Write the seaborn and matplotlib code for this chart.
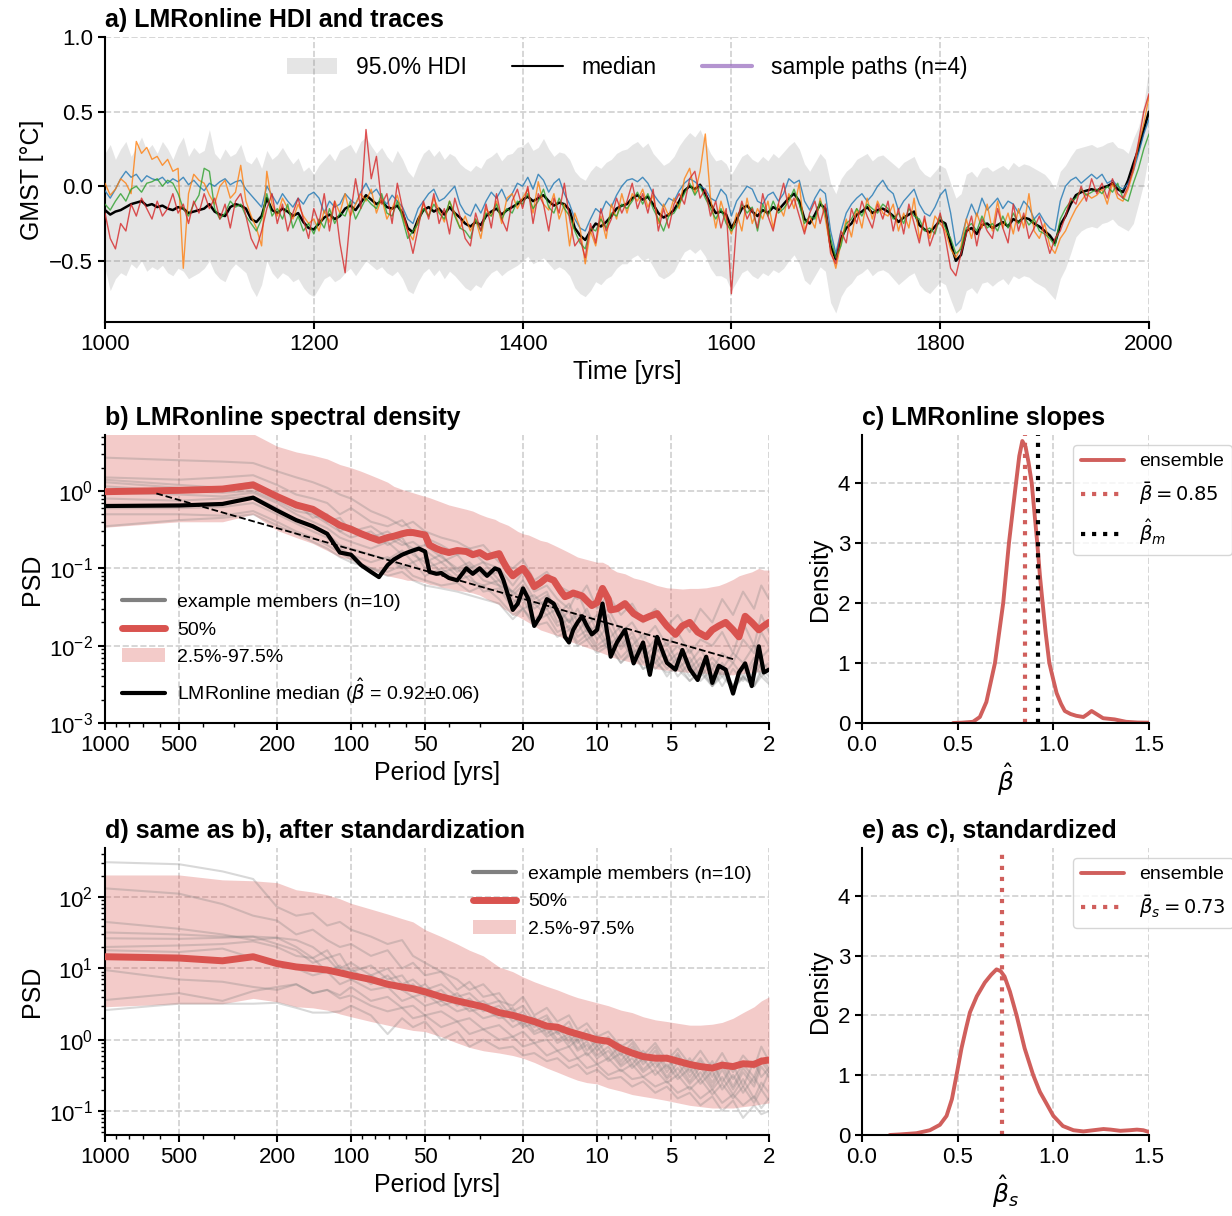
import numpy as np
import matplotlib
matplotlib.use("Agg")
import matplotlib.pyplot as plt
from matplotlib.lines import Line2D
from matplotlib.patches import Patch
from matplotlib.ticker import NullFormatter
import seaborn as sns

# ---------------- panel a data (5-year sampling) ----------------
years = np.arange(1000, 2001, 5)

median_gmst = [
    -0.16, -0.19, -0.17, -0.16, -0.14, -0.12, -0.11, -0.10, -0.13, -0.12,
    -0.14, -0.13, -0.15, -0.16, -0.14, -0.15, -0.18, -0.17, -0.16, -0.15,
    -0.12, -0.17, -0.19, -0.20, -0.14, -0.12, -0.13, -0.15, -0.22, -0.24,
    -0.20, -0.08, -0.16, -0.18, -0.15, -0.17, -0.20, -0.18, -0.24, -0.28,
    -0.29, -0.25, -0.21, -0.19, -0.22, -0.20, -0.15, -0.13, -0.16, -0.11,
    -0.06, -0.09, -0.12, -0.10, -0.14, -0.15, -0.13, -0.18, -0.28, -0.31,
    -0.22, -0.16, -0.14, -0.17, -0.15, -0.19, -0.14, -0.18, -0.21, -0.25,
    -0.27, -0.24, -0.26, -0.20, -0.17, -0.15, -0.19, -0.16, -0.14, -0.12,
    -0.09, -0.07, -0.10, -0.08, -0.06, -0.10, -0.13, -0.11, -0.12, -0.16,
    -0.28, -0.33, -0.36, -0.30, -0.25, -0.27, -0.24, -0.20, -0.15, -0.13,
    -0.12, -0.08, -0.06, -0.09, -0.07, -0.12, -0.18, -0.21, -0.19, -0.16,
    -0.10, -0.03, 0.00, -0.02, 0.01, -0.05, -0.12, -0.18, -0.17, -0.19,
    -0.28, -0.22, -0.15, -0.13, -0.17, -0.20, -0.16, -0.18, -0.14, -0.16,
    -0.12, -0.08, -0.05, -0.10, -0.22, -0.25, -0.19, -0.12, -0.15, -0.40,
    -0.49, -0.35, -0.28, -0.25, -0.19, -0.17, -0.14, -0.18, -0.16, -0.15,
    -0.17, -0.20, -0.24, -0.21, -0.19, -0.17, -0.26, -0.29, -0.31, -0.27,
    -0.23, -0.25, -0.38, -0.50, -0.46, -0.30, -0.28, -0.32, -0.26, -0.25,
    -0.28, -0.26, -0.24, -0.27, -0.22, -0.24, -0.21, -0.22, -0.25, -0.27,
    -0.30, -0.33, -0.38, -0.26, -0.20, -0.12, -0.06, -0.04, -0.03, -0.02,
    -0.03, -0.01, 0.00, 0.02, -0.02, -0.04, 0.04, 0.15, 0.25, 0.38, 0.50,
]

hdi_upper = [
    0.22, 0.28, 0.18, 0.25, 0.30, 0.20, 0.26, 0.33, 0.24, 0.28,
    0.22, 0.30, 0.25, 0.18, 0.27, 0.33, 0.20, 0.26, 0.22, 0.24,
    0.38, 0.22, 0.18, 0.25, 0.20, 0.22, 0.28, 0.17, 0.15, 0.20,
    0.12, 0.24, 0.18, 0.21, 0.26, 0.20, 0.15, 0.19, 0.10, 0.13,
    0.08, 0.14, 0.18, 0.22, 0.17, 0.24, 0.26, 0.28, 0.22, 0.30,
    0.33, 0.27, 0.22, 0.26, 0.20, 0.16, 0.24, 0.18, 0.10, 0.06,
    0.15, 0.22, 0.25, 0.20, 0.24, 0.18, 0.22, 0.20, 0.15, 0.12,
    0.10, 0.14, 0.12, 0.18, 0.20, 0.23, 0.17, 0.21, 0.22, 0.26,
    0.27, 0.30, 0.24, 0.26, 0.32, 0.25, 0.20, 0.23, 0.22, 0.18,
    0.10, 0.06, 0.04, 0.10, 0.14, 0.12, 0.16, 0.18, 0.22, 0.24,
    0.25, 0.28, 0.30, 0.26, 0.29, 0.22, 0.18, 0.14, 0.16, 0.20,
    0.27, 0.32, 0.36, 0.33, 0.38, 0.30, 0.22, 0.17, 0.18, 0.15,
    0.08, 0.14, 0.20, 0.22, 0.18, 0.16, 0.20, 0.17, 0.22, 0.19,
    0.23, 0.27, 0.30, 0.25, 0.15, 0.10, 0.16, 0.22, 0.18, 0.02,
    -0.05, 0.05, 0.10, 0.13, 0.18, 0.20, 0.22, 0.17, 0.20, 0.21,
    0.18, 0.15, 0.12, 0.16, 0.18, 0.20, 0.12, 0.08, 0.06, 0.10,
    0.14, 0.12, 0.02, -0.08, -0.05, 0.08, 0.10, 0.06, 0.12, 0.13,
    0.10, 0.12, 0.14, 0.11, 0.16, 0.13, 0.15, 0.14, 0.12, 0.10,
    0.08, 0.04, -0.02, 0.10, 0.14, 0.20, 0.25, 0.26, 0.27, 0.28,
    0.26, 0.27, 0.29, 0.30, 0.26, 0.25, 0.22, 0.32, 0.40, 0.55, 0.80,
]

hdi_lower = [
    -0.55, -0.70, -0.62, -0.58, -0.60, -0.52, -0.55, -0.50, -0.57, -0.54,
    -0.56, -0.53, -0.58, -0.60, -0.55, -0.57, -0.62, -0.60, -0.58, -0.55,
    -0.50, -0.58, -0.62, -0.64, -0.56, -0.52, -0.55, -0.58, -0.68, -0.74,
    -0.66, -0.50, -0.58, -0.62, -0.58, -0.60, -0.64, -0.62, -0.68, -0.72,
    -0.74, -0.68, -0.62, -0.60, -0.64, -0.62, -0.58, -0.55, -0.60, -0.55,
    -0.50, -0.53, -0.56, -0.54, -0.58, -0.60, -0.57, -0.62, -0.70, -0.72,
    -0.64, -0.58, -0.55, -0.60, -0.56, -0.62, -0.57, -0.60, -0.64, -0.68,
    -0.70, -0.66, -0.68, -0.62, -0.58, -0.56, -0.60, -0.57, -0.55, -0.53,
    -0.50, -0.47, -0.52, -0.50, -0.48, -0.52, -0.56, -0.54, -0.56, -0.60,
    -0.68, -0.72, -0.74, -0.70, -0.64, -0.66, -0.62, -0.60, -0.55, -0.52,
    -0.52, -0.48, -0.46, -0.50, -0.48, -0.54, -0.60, -0.62, -0.60, -0.57,
    -0.50, -0.44, -0.42, -0.45, -0.42, -0.47, -0.55, -0.60, -0.60, -0.62,
    -0.70, -0.64, -0.58, -0.56, -0.60, -0.62, -0.58, -0.60, -0.56, -0.58,
    -0.55, -0.50, -0.46, -0.52, -0.63, -0.66, -0.60, -0.54, -0.57, -0.78,
    -0.85, -0.74, -0.68, -0.65, -0.60, -0.58, -0.55, -0.60, -0.57, -0.56,
    -0.58, -0.62, -0.66, -0.63, -0.60, -0.58, -0.66, -0.70, -0.72, -0.68,
    -0.64, -0.66, -0.76, -0.85, -0.82, -0.70, -0.68, -0.72, -0.65, -0.64,
    -0.67, -0.64, -0.62, -0.66, -0.60, -0.62, -0.60, -0.61, -0.64, -0.66,
    -0.68, -0.72, -0.76, -0.62, -0.55, -0.45, -0.34, -0.30, -0.28, -0.27,
    -0.28, -0.25, -0.24, -0.22, -0.26, -0.28, -0.30, -0.25, -0.12, 0.02, 0.22,
]

path_blue = [
    -0.03, -0.08, -0.02, 0.05, 0.10, 0.06, 0.08, 0.03, 0.07, 0.05,
    0.04, 0.06, 0.02, 0.05, 0.03, 0.06, 0.01, 0.04, 0.00, -0.03,
    0.02, 0.00, 0.03, 0.05, 0.01, 0.03, 0.04, -0.02, -0.06, -0.10,
    -0.14, 0.00, -0.06, -0.12, -0.05, -0.10, -0.14, -0.08, -0.12, -0.06,
    -0.04, -0.08, -0.18, -0.10, -0.14, -0.12, -0.05, -0.09, -0.12, -0.04,
    0.02, -0.05, -0.02, -0.08, -0.12, -0.06, -0.10, -0.14, -0.22, -0.25,
    -0.15, -0.10, -0.05, -0.02, -0.10, -0.08, -0.04, 0.00, -0.12, -0.18,
    -0.20, -0.12, -0.18, -0.10, -0.04, -0.08, -0.02, -0.10, -0.05, 0.02,
    0.00, 0.06, -0.02, 0.08, 0.04, -0.04, 0.02, 0.05, -0.05, -0.12,
    -0.22, -0.28, -0.30, -0.22, -0.15, -0.18, -0.10, -0.14, -0.06, 0.00,
    0.04, 0.05, 0.03, 0.06, 0.02, -0.05, -0.10, -0.14, -0.08, -0.10,
    -0.03, 0.02, 0.05, 0.03, 0.00, -0.02, -0.08, -0.10, -0.02, -0.06,
    -0.20, -0.10, -0.05, 0.00, -0.02, -0.10, -0.12, -0.06, -0.04, -0.10,
    -0.05, 0.05, 0.02, 0.04, -0.10, -0.16, -0.08, -0.02, -0.05, -0.30,
    -0.45, -0.30, -0.18, -0.12, -0.08, -0.05, -0.10, -0.06, 0.00, 0.04,
    -0.02, -0.05, -0.16, -0.10, -0.06, -0.02, -0.12, -0.18, -0.20, -0.14,
    -0.06, -0.02, -0.18, -0.40, -0.36, -0.22, -0.12, -0.20, -0.08, -0.16,
    -0.12, -0.08, -0.15, -0.10, -0.12, -0.18, -0.10, -0.14, -0.22, -0.18,
    -0.24, -0.28, -0.30, -0.10, 0.00, 0.04, 0.06, 0.02, 0.05, 0.08,
    0.05, 0.08, 0.02, 0.04, 0.00, -0.02, 0.02, 0.10, 0.22, 0.35, 0.45,
]

path_orange = [
    0.02, -0.06, -0.02, 0.05, 0.02, -0.05, 0.30, 0.22, 0.26, 0.18,
    0.20, 0.14, 0.18, 0.10, 0.12, -0.55, -0.05, 0.08, 0.04, 0.02,
    -0.06, -0.12, 0.00, 0.04, -0.08, -0.04, 0.14, -0.10, -0.20, -0.28,
    -0.40, 0.10, -0.12, -0.20, -0.08, -0.15, -0.22, -0.12, -0.20, -0.25,
    -0.22, -0.30, -0.16, -0.24, -0.10, -0.18, -0.05, -0.20, -0.12, -0.05,
    -0.10, -0.02, -0.18, -0.08, -0.22, -0.15, -0.06, -0.20, -0.30, -0.36,
    -0.22, -0.12, -0.20, -0.08, -0.16, -0.24, -0.10, -0.18, -0.28, -0.20,
    -0.30, -0.22, -0.35, -0.15, -0.20, -0.10, -0.25, -0.08, -0.05, -0.15,
    -0.08, -0.02, -0.18, 0.03, -0.12, -0.16, -0.05, -0.22, -0.12, -0.40,
    -0.18, -0.28, -0.52, -0.30, -0.40, -0.20, -0.35, -0.12, -0.22, -0.05,
    -0.18, -0.05, -0.10, -0.02, -0.14, -0.06, -0.25, -0.12, -0.20, -0.08,
    -0.15, 0.05, 0.12, -0.05, 0.10, 0.35, -0.08, -0.28, -0.10, -0.22,
    -0.32, -0.18, -0.30, -0.08, -0.25, -0.15, -0.22, -0.10, -0.28, -0.12,
    -0.20, -0.05, -0.15, 0.02, -0.30, -0.20, -0.28, -0.08, -0.22, -0.42,
    -0.55, -0.38, -0.22, -0.34, -0.15, -0.28, -0.08, -0.22, -0.10, -0.18,
    -0.20, -0.12, -0.30, -0.18, -0.28, -0.08, -0.35, -0.22, -0.35, -0.20,
    -0.25, -0.30, -0.42, -0.48, -0.40, -0.22, -0.35, -0.18, -0.28, -0.12,
    -0.30, -0.10, -0.28, -0.18, -0.32, -0.15, -0.28, -0.05, -0.30, -0.35,
    -0.25, -0.40, -0.45, -0.35, -0.30, -0.22, -0.15, -0.10, -0.05, -0.08,
    -0.06, -0.02, -0.12, 0.02, -0.08, -0.10, -0.02, 0.10, 0.28, 0.42, 0.60,
]

path_green = [
    -0.12, -0.16, -0.10, -0.05, -0.10, -0.02, 0.00, -0.04, 0.02, 0.03,
    0.05, 0.00, 0.04, 0.02, -0.05, -0.15, -0.20, -0.12, -0.06, 0.12,
    0.10, -0.15, -0.22, -0.18, -0.10, -0.14, -0.12, -0.20, -0.25, -0.30,
    -0.22, -0.05, -0.20, -0.15, -0.22, -0.12, -0.28, -0.20, -0.30, -0.25,
    -0.32, -0.22, -0.28, -0.15, -0.25, -0.18, -0.20, -0.10, -0.22, -0.15,
    -0.08, -0.12, -0.15, -0.05, -0.18, -0.20, -0.10, -0.22, -0.35, -0.30,
    -0.25, -0.15, -0.20, -0.12, -0.18, -0.22, -0.10, -0.20, -0.28, -0.30,
    -0.35, -0.22, -0.30, -0.18, -0.20, -0.12, -0.22, -0.15, -0.18, -0.10,
    -0.12, -0.05, -0.15, -0.10, -0.02, -0.14, -0.18, -0.08, -0.15, -0.20,
    -0.30, -0.38, -0.42, -0.28, -0.30, -0.22, -0.28, -0.18, -0.20, -0.12,
    -0.15, -0.10, -0.04, -0.12, -0.05, -0.15, -0.22, -0.30, -0.20, -0.18,
    -0.12, -0.05, 0.02, -0.06, 0.00, -0.08, -0.15, -0.22, -0.15, -0.25,
    -0.30, -0.25, -0.12, -0.18, -0.14, -0.30, -0.12, -0.20, -0.10, -0.18,
    -0.15, -0.10, -0.02, -0.12, -0.25, -0.20, -0.22, -0.10, -0.18, -0.35,
    -0.48, -0.40, -0.25, -0.22, -0.15, -0.20, -0.12, -0.15, -0.18, -0.12,
    -0.15, -0.22, -0.18, -0.25, -0.15, -0.20, -0.22, -0.30, -0.28, -0.32,
    -0.20, -0.28, -0.35, -0.45, -0.42, -0.28, -0.25, -0.30, -0.20, -0.28,
    -0.25, -0.30, -0.20, -0.28, -0.18, -0.25, -0.20, -0.26, -0.22, -0.30,
    -0.32, -0.35, -0.40, -0.22, -0.15, -0.10, -0.08, -0.02, -0.06, -0.04,
    -0.02, -0.05, 0.00, -0.04, 0.02, -0.08, -0.10, 0.02, 0.12, 0.25, 0.35,
]

path_red = [
    -0.18, -0.35, -0.42, -0.25, -0.30, -0.12, -0.20, -0.08, -0.15, -0.22,
    -0.10, -0.20, -0.15, -0.05, -0.18, -0.12, -0.25, -0.10, -0.18, -0.05,
    -0.15, -0.08, -0.22, -0.12, -0.28, -0.10, -0.05, -0.20, -0.35, -0.42,
    -0.30, -0.15, -0.05, -0.25, -0.12, -0.30, -0.18, -0.08, -0.22, -0.35,
    -0.15, -0.25, -0.05, -0.30, -0.10, -0.38, -0.58, -0.20, 0.05, -0.15,
    0.38, 0.05, 0.20, -0.12, -0.05, -0.25, 0.02, -0.15, -0.30, -0.45,
    -0.28, -0.10, -0.22, -0.05, -0.25, -0.15, -0.32, -0.08, -0.20, -0.35,
    -0.40, -0.18, -0.30, -0.12, -0.28, -0.05, -0.22, -0.30, -0.10, -0.02,
    -0.15, 0.00, -0.25, -0.05, -0.12, -0.30, -0.08, -0.18, 0.02, -0.22,
    -0.40, -0.35, -0.48, -0.25, -0.38, -0.15, -0.30, -0.22, -0.08, -0.18,
    -0.10, 0.02, -0.15, -0.05, -0.18, -0.02, -0.30, -0.15, -0.28, -0.12,
    -0.05, -0.12, 0.05, 0.10, -0.08, -0.02, -0.20, -0.10, -0.28, -0.15,
    -0.72, -0.25, -0.10, -0.22, -0.15, -0.28, -0.05, -0.20, -0.30, -0.12,
    0.02, -0.15, -0.08, -0.20, -0.32, -0.18, -0.10, -0.25, -0.12, -0.45,
    -0.52, -0.30, -0.38, -0.15, -0.25, -0.10, -0.20, -0.28, -0.12, -0.22,
    -0.10, -0.30, -0.15, -0.32, -0.12, -0.25, -0.38, -0.20, -0.40, -0.30,
    -0.18, -0.35, -0.55, -0.60, -0.45, -0.32, -0.20, -0.40, -0.22, -0.30,
    -0.35, -0.15, -0.28, -0.38, -0.12, -0.30, -0.18, -0.35, -0.28, -0.20,
    -0.32, -0.45, -0.35, -0.30, -0.20, -0.08, -0.12, 0.00, -0.10, 0.05,
    -0.05, 0.02, -0.08, 0.05, -0.05, -0.08, 0.00, 0.12, 0.30, 0.50, 0.62,
]

# ---------------- panel b data ----------------
period_b = [1000, 500, 333, 250, 200, 167, 143, 125, 111, 100,
            91, 83, 77, 71, 67, 62, 59, 56, 53, 50,
            48, 45, 43, 40, 37, 34, 32, 30, 28, 26,
            25, 24, 23, 22, 21, 20, 19, 18, 17, 16,
            15, 14, 13.5, 13, 12.5, 12, 11.5, 11, 10.5, 10,
            9.5, 9, 8.8, 8.3, 7.7, 7.1, 6.5, 6.1, 5.7, 5.2,
            4.8, 4.5, 4.2, 3.9, 3.6, 3.4, 3.2, 3.0, 2.8, 2.65,
            2.5, 2.35, 2.2, 2.1, 2.0]

psd_median_lmr = [0.64, 0.65, 0.68, 0.82, 0.56, 0.42, 0.35, 0.28, 0.16, 0.15,
                  0.11, 0.09, 0.077, 0.11, 0.13, 0.15, 0.16, 0.17, 0.18, 0.165,
                  0.09, 0.085, 0.087, 0.075, 0.07, 0.10, 0.085, 0.10, 0.08, 0.10,
                  0.095, 0.07, 0.045, 0.029, 0.035, 0.055, 0.04, 0.018, 0.024, 0.04,
                  0.035, 0.022, 0.013, 0.011, 0.016, 0.02, 0.024, 0.018, 0.014, 0.016,
                  0.035, 0.012, 0.0072, 0.011, 0.016, 0.0059, 0.011, 0.0042, 0.013, 0.006,
                  0.0049, 0.0088, 0.005, 0.0036, 0.0072, 0.0033, 0.0055, 0.0049, 0.0024, 0.0045,
                  0.0059, 0.003, 0.0098, 0.0045, 0.0049]

psd_q50 = [0.98, 1.02, 1.06, 1.2, 0.85, 0.66, 0.58, 0.45, 0.36, 0.32,
           0.28, 0.25, 0.23, 0.25, 0.26, 0.28, 0.29, 0.29, 0.28, 0.27,
           0.20, 0.18, 0.17, 0.16, 0.17, 0.165, 0.15, 0.16, 0.14, 0.15,
           0.155, 0.12, 0.095, 0.08, 0.09, 0.10, 0.08, 0.058, 0.065, 0.076,
           0.07, 0.05, 0.043, 0.045, 0.048, 0.046, 0.044, 0.038, 0.033, 0.036,
           0.055, 0.04, 0.029, 0.03, 0.035, 0.026, 0.022, 0.024, 0.026, 0.018,
           0.014, 0.018, 0.02, 0.015, 0.013, 0.016, 0.018, 0.02, 0.016, 0.013,
           0.024, 0.02, 0.016, 0.018, 0.02]

psd_q975 = [5.5, 5.5, 5.5, 5.5, 3.8, 3.2, 2.9, 2.6, 2.2, 2.0,
            1.8, 1.6, 1.45, 1.3, 1.15, 1.05, 1.0, 0.95, 0.9, 0.85,
            0.82, 0.76, 0.72, 0.66, 0.62, 0.58, 0.55, 0.5, 0.46, 0.43,
            0.4, 0.38, 0.36, 0.33, 0.3, 0.28, 0.27, 0.25, 0.23, 0.22,
            0.2, 0.18, 0.17, 0.16, 0.15, 0.14, 0.135, 0.13, 0.125, 0.12,
            0.12, 0.11, 0.1, 0.09, 0.085, 0.075, 0.07, 0.065, 0.06, 0.056,
            0.055, 0.054, 0.055, 0.055, 0.056, 0.058, 0.06, 0.065, 0.072, 0.08,
            0.085, 0.09, 0.1, 0.095, 0.095]

psd_q025 = [0.34, 0.40, 0.40, 0.50, 0.31, 0.25, 0.21, 0.17, 0.14, 0.13,
            0.11, 0.095, 0.087, 0.08, 0.077, 0.073, 0.07, 0.07, 0.068, 0.065,
            0.062, 0.06, 0.057, 0.055, 0.052, 0.05, 0.048, 0.045, 0.04, 0.036,
            0.034, 0.03, 0.028, 0.025, 0.024, 0.022, 0.02, 0.018, 0.016, 0.015,
            0.014, 0.013, 0.012, 0.0115, 0.011, 0.0105, 0.01, 0.0095, 0.009, 0.0085,
            0.008, 0.0075, 0.0072, 0.0068, 0.0064, 0.006, 0.0056, 0.0053, 0.005, 0.0048,
            0.0047, 0.0046, 0.0045, 0.0044, 0.0044, 0.0043, 0.0043, 0.0042, 0.0042, 0.0043,
            0.0044, 0.0045, 0.0046, 0.0047, 0.0048]

fit_period = [626, 2.8]
fit_psd = [0.94, 0.0067]

period_m = [1000, 500, 333, 250, 200, 167, 143, 125, 111, 100,
            83, 71, 62, 56, 50, 43, 37, 33, 29, 25,
            22, 20, 18, 16, 14.5, 13, 12, 11, 10, 9,
            8, 7.2, 6.5, 5.8, 5.2, 4.7, 4.2, 3.8, 3.4, 3.1,
            2.8, 2.55, 2.3, 2.15, 2.0]

members_b = [
    [2.7, 2.5, 2.4, 2.3, 1.8, 1.5, 1.3, 1.1, 0.9, 0.8, 0.55, 0.45, 0.35, 0.4, 0.3, 0.25, 0.22, 0.18, 0.2, 0.12,
     0.1, 0.13, 0.07, 0.09, 0.06, 0.05, 0.04, 0.06, 0.03, 0.045, 0.025, 0.035, 0.02, 0.03, 0.018, 0.025, 0.015,
     0.03, 0.02, 0.04, 0.025, 0.05, 0.03, 0.06, 0.04],
    [1.5, 1.4, 1.5, 1.6, 1.2, 0.9, 0.8, 0.7, 0.5, 0.6, 0.4, 0.35, 0.42, 0.3, 0.25, 0.2, 0.15, 0.18, 0.12, 0.1,
     0.06, 0.09, 0.05, 0.06, 0.04, 0.03, 0.05, 0.025, 0.02, 0.03, 0.015, 0.02, 0.012, 0.018, 0.01, 0.015, 0.008,
     0.012, 0.01, 0.015, 0.008, 0.02, 0.01, 0.025, 0.015],
    [1.4, 1.2, 1.1, 1.3, 0.9, 0.6, 0.55, 0.4, 0.45, 0.3, 0.35, 0.25, 0.2, 0.22, 0.17, 0.12, 0.15, 0.1, 0.12, 0.07,
     0.05, 0.07, 0.04, 0.05, 0.025, 0.035, 0.02, 0.03, 0.015, 0.025, 0.01, 0.015, 0.008, 0.012, 0.007, 0.01, 0.006,
     0.009, 0.005, 0.008, 0.006, 0.012, 0.008, 0.015, 0.01],
    [1.3, 1.1, 1.0, 1.1, 0.8, 0.7, 0.45, 0.5, 0.3, 0.35, 0.25, 0.3, 0.22, 0.18, 0.2, 0.14, 0.1, 0.12, 0.08, 0.09,
     0.045, 0.06, 0.035, 0.045, 0.03, 0.02, 0.03, 0.018, 0.025, 0.012, 0.018, 0.01, 0.014, 0.008, 0.011, 0.006, 0.009,
     0.005, 0.007, 0.005, 0.008, 0.006, 0.01, 0.007, 0.009],
    [1.15, 1.0, 0.95, 1.0, 0.75, 0.55, 0.5, 0.38, 0.3, 0.25, 0.3, 0.2, 0.25, 0.15, 0.12, 0.15, 0.09, 0.11, 0.07, 0.06,
     0.05, 0.04, 0.045, 0.03, 0.035, 0.02, 0.025, 0.015, 0.018, 0.01, 0.014, 0.008, 0.01, 0.006, 0.009, 0.005, 0.007,
     0.004, 0.006, 0.004, 0.006, 0.004, 0.007, 0.005, 0.006],
    [0.95, 0.9, 0.85, 0.95, 0.7, 0.5, 0.4, 0.33, 0.25, 0.22, 0.18, 0.22, 0.15, 0.17, 0.1, 0.12, 0.08, 0.09, 0.1, 0.06,
     0.035, 0.05, 0.03, 0.04, 0.02, 0.028, 0.015, 0.022, 0.012, 0.018, 0.009, 0.013, 0.007, 0.01, 0.006, 0.008, 0.005,
     0.007, 0.004, 0.006, 0.003, 0.005, 0.004, 0.006, 0.005],
    [0.8, 0.75, 0.8, 0.85, 0.6, 0.42, 0.35, 0.28, 0.2, 0.18, 0.15, 0.13, 0.17, 0.12, 0.14, 0.09, 0.1, 0.07, 0.06, 0.07,
     0.04, 0.03, 0.035, 0.025, 0.03, 0.016, 0.02, 0.012, 0.015, 0.009, 0.012, 0.007, 0.009, 0.005, 0.007, 0.004, 0.006,
     0.0035, 0.005, 0.003, 0.005, 0.0035, 0.006, 0.004, 0.005],
    [0.6, 0.6, 0.62, 0.7, 0.5, 0.38, 0.3, 0.25, 0.18, 0.15, 0.12, 0.14, 0.1, 0.12, 0.08, 0.1, 0.07, 0.08, 0.05, 0.055,
     0.03, 0.04, 0.022, 0.03, 0.018, 0.022, 0.013, 0.016, 0.01, 0.013, 0.007, 0.01, 0.006, 0.008, 0.005, 0.007, 0.004,
     0.006, 0.003, 0.005, 0.003, 0.004, 0.003, 0.005, 0.004],
    [0.5, 0.5, 0.48, 0.55, 0.4, 0.3, 0.25, 0.2, 0.16, 0.13, 0.1, 0.09, 0.11, 0.08, 0.07, 0.06, 0.065, 0.05, 0.06, 0.04,
     0.025, 0.03, 0.02, 0.025, 0.015, 0.018, 0.011, 0.014, 0.009, 0.011, 0.006, 0.009, 0.005, 0.007, 0.004, 0.006,
     0.0035, 0.005, 0.003, 0.0045, 0.0028, 0.004, 0.003, 0.0045, 0.0035],
    [0.35, 0.42, 0.45, 0.5, 0.36, 0.28, 0.22, 0.18, 0.14, 0.12, 0.1, 0.08, 0.09, 0.07, 0.06, 0.055, 0.05, 0.045, 0.04,
     0.035, 0.022, 0.03, 0.018, 0.02, 0.013, 0.016, 0.01, 0.012, 0.008, 0.01, 0.006, 0.008, 0.005, 0.006, 0.0045,
     0.005, 0.0035, 0.0045, 0.003, 0.004, 0.0028, 0.0038, 0.003, 0.004, 0.0032],
]

# ---------------- panel d data ----------------
psd_std_q50 = [14.6, 14.0, 12.8, 14.6, 11.7, 10.5, 10.0, 9.5, 8.7, 8.0,
               7.0, 6.0, 5.5, 5.2, 4.7, 4.0, 3.5, 3.2, 2.9, 2.4,
               2.2, 2.0, 1.8, 1.55, 1.5, 1.3, 1.2, 1.1, 1.0, 0.95,
               0.75, 0.65, 0.58, 0.55, 0.55, 0.5, 0.45, 0.42, 0.4, 0.44,
               0.42, 0.46, 0.45, 0.5, 0.52]
psd_std_q975 = [205, 205, 175, 170, 160, 127, 118, 108, 95, 82,
                68, 58, 50, 45, 35, 28, 22, 18, 15, 10.5,
                9.0, 7.6, 6.5, 5.6, 5.0, 4.3, 3.9, 3.6, 3.3, 3.0,
                2.6, 2.4, 2.1, 1.9, 1.8, 1.7, 1.6, 1.6, 1.65, 1.75,
                2.0, 2.4, 2.9, 3.5, 4.0]
psd_std_q025 = [2.9, 3.2, 3.2, 3.8, 3.4, 2.9, 2.8, 2.6, 2.3, 2.1,
                1.8, 1.6, 1.45, 1.35, 1.3, 1.1, 0.9, 0.78, 0.7, 0.65,
                0.6, 0.55, 0.48, 0.4, 0.35, 0.3, 0.27, 0.25, 0.24, 0.21,
                0.19, 0.17, 0.16, 0.15, 0.14, 0.13, 0.12, 0.115, 0.11, 0.11,
                0.11, 0.115, 0.12, 0.125, 0.13]

members_d = [
    [310, 290, 230, 180, 73, 55, 60, 40, 45, 35, 28, 22, 25, 15, 12, 9, 7, 5, 6, 3.5, 3, 4, 2.2, 2.8, 1.8, 2.2, 1.4,
     1.7, 1.1, 1.3, 0.8, 1.0, 0.6, 0.9, 0.5, 0.75, 0.45, 0.7, 0.4, 0.65, 0.35, 0.6, 0.4, 0.8, 0.5],
    [133, 112, 80, 55, 47, 30, 35, 25, 20, 22, 15, 18, 10, 12, 8, 9, 5, 6.5, 4, 4.5, 2.5, 3, 1.8, 2.2, 1.3, 1.8, 1.0,
     1.4, 0.8, 1.1, 0.6, 0.9, 0.5, 0.8, 0.4, 0.65, 0.35, 0.55, 0.3, 0.5, 0.28, 0.45, 0.3, 0.55, 0.4],
    [45, 36, 30, 25, 27, 20, 14, 18, 10, 12, 8, 10, 6, 7, 5, 6, 4, 4.5, 3, 3.5, 2, 2.5, 1.5, 2, 1.2, 1.5, 0.9, 1.2,
     0.7, 1.0, 0.5, 0.8, 0.45, 0.7, 0.35, 0.6, 0.3, 0.5, 0.25, 0.45, 0.22, 0.4, 0.25, 0.5, 0.35],
    [32, 30, 28, 28, 27, 25, 20, 14, 16, 9, 11, 7, 8, 5, 6, 3.5, 4.5, 3, 3.5, 2.2, 2.8, 1.6, 2.1, 1.2, 1.6, 0.9, 1.3,
     0.7, 1.0, 0.55, 0.85, 0.45, 0.7, 0.4, 0.6, 0.32, 0.55, 0.28, 0.5, 0.25, 0.45, 0.22, 0.5, 0.3, 0.4],
    [26.5, 26, 27, 28, 22, 18, 12, 14, 9, 10, 6, 8, 5, 6, 4, 5, 3, 3.8, 2.5, 3, 1.8, 2.2, 1.3, 1.6, 1.0, 1.2, 0.75,
     0.95, 0.6, 0.8, 0.45, 0.65, 0.38, 0.55, 0.3, 0.48, 0.26, 0.42, 0.22, 0.38, 0.2, 0.35, 0.22, 0.42, 0.3],
    [20, 21, 22, 24, 20, 15, 14, 9, 11, 7, 8, 6, 5, 4, 4.5, 3, 3.5, 2.5, 2.8, 2, 2.2, 1.5, 1.7, 1.1, 1.3, 0.8, 1.0,
     0.6, 0.8, 0.5, 0.65, 0.4, 0.55, 0.32, 0.45, 0.28, 0.4, 0.24, 0.36, 0.2, 0.32, 0.18, 0.3, 0.2, 0.35],
    [18, 17, 19, 14, 12, 10, 8, 9, 6, 7, 5, 5.5, 3.5, 4, 3, 3.5, 2.5, 2.8, 2, 2.3, 1.5, 1.8, 1.2, 1.4, 0.9, 1.1, 0.7,
     0.85, 0.55, 0.7, 0.42, 0.55, 0.35, 0.48, 0.28, 0.4, 0.24, 0.35, 0.2, 0.3, 0.17, 0.28, 0.15, 0.25, 0.18],
    [9.5, 7, 6.5, 5.5, 5, 6, 4.5, 5, 3.8, 4.2, 3, 2.5, 2.8, 2, 2.2, 1.5, 1.8, 1.2, 1.4, 1.0, 1.1, 0.8, 0.9, 0.6, 0.7,
     0.5, 0.55, 0.4, 0.45, 0.32, 0.38, 0.28, 0.3, 0.22, 0.26, 0.18, 0.22, 0.15, 0.2, 0.13, 0.17, 0.12, 0.16, 0.11, 0.15],
    [3.6, 4.5, 3.5, 4.8, 5.5, 6, 4.5, 5, 4.2, 5.5, 3.5, 4, 2.8, 3, 2.2, 2.5, 1.8, 2, 1.4, 1.6, 1.1, 1.3, 0.9, 1.0, 0.7,
     0.8, 0.55, 0.65, 0.45, 0.55, 0.36, 0.45, 0.3, 0.38, 0.25, 0.32, 0.2, 0.28, 0.17, 0.24, 0.15, 0.22, 0.13, 0.2, 0.14],
    [2.6, 3.2, 3.2, 3.2, 3.3, 2.8, 2.4, 2.4, 2.5, 3.0, 2.2, 1.2, 2.0, 1.5, 1.8, 1.0, 1.3, 0.8, 1.0, 0.75, 0.8, 0.6,
     0.65, 0.5, 0.55, 0.4, 0.45, 0.33, 0.38, 0.28, 0.3, 0.22, 0.26, 0.18, 0.22, 0.15, 0.18, 0.12, 0.16, 0.1, 0.14,
     0.08, 0.12, 0.09, 0.1],
]

# ---------------- panels c / e data ----------------
beta_grid_c = [0.476, 0.52, 0.58, 0.616, 0.65, 0.695, 0.738, 0.768, 0.79, 0.805,
               0.822, 0.838, 0.855, 0.87, 0.887, 0.9, 0.916, 0.93, 0.944, 0.96,
               0.979, 1.0, 1.017, 1.04, 1.06, 1.09, 1.12, 1.157, 1.18, 1.2,
               1.22, 1.26, 1.32, 1.38, 1.44, 1.5]
density_c = [0.0, 0.005, 0.02, 0.1, 0.35, 1.0, 2.0, 3.0, 3.6, 4.0,
             4.45, 4.7, 4.6, 4.35, 4.0, 3.55, 3.0, 2.45, 2.0, 1.5,
             1.0, 0.72, 0.5, 0.32, 0.2, 0.15, 0.12, 0.1, 0.15, 0.2,
             0.16, 0.08, 0.06, 0.02, 0.008, 0.005]
beta_bar = 0.85
beta_m = 0.92

beta_grid_e = [0.145, 0.2, 0.285, 0.355, 0.407, 0.442, 0.47, 0.494, 0.52, 0.545,
               0.564, 0.6, 0.642, 0.675, 0.703, 0.725, 0.745, 0.773, 0.808, 0.85,
               0.895, 0.93, 0.96, 1.0, 1.05, 1.105, 1.157, 1.21, 1.262, 1.3,
               1.35, 1.4, 1.437, 1.47, 1.5]
density_e = [0.0, 0.01, 0.03, 0.08, 0.17, 0.32, 0.6, 1.0, 1.45, 1.8,
             2.05, 2.32, 2.55, 2.68, 2.77, 2.74, 2.65, 2.4, 2.0, 1.45,
             1.0, 0.72, 0.55, 0.32, 0.15, 0.08, 0.06, 0.08, 0.1, 0.09,
             0.07, 0.08, 0.09, 0.08, 0.05]
beta_bar_s = 0.73

period_ticks = [1000, 500, 200, 100, 50, 20, 10, 5, 2]
period_labels = ["1000", "500", "200", "100", "50", "20", "10", "5", "2"]

# ---------------- style ----------------
sns.set_style("ticks")
plt.rcParams["font.family"] = ["Liberation Sans", "DejaVu Sans"]
plt.rcParams["mathtext.fontset"] = "dejavusans"
plt.rcParams["axes.linewidth"] = 1.5
plt.rcParams["xtick.major.width"] = 1.5
plt.rcParams["ytick.major.width"] = 1.5
plt.rcParams["xtick.major.size"] = 5
plt.rcParams["ytick.major.size"] = 5
plt.rcParams["xtick.minor.size"] = 3
plt.rcParams["ytick.minor.size"] = 3
plt.rcParams["xtick.minor.width"] = 1.0
plt.rcParams["ytick.minor.width"] = 1.0
plt.rcParams["xtick.labelsize"] = 16
plt.rcParams["ytick.labelsize"] = 16
plt.rcParams["axes.labelsize"] = 18
plt.rcParams["xtick.color"] = "black"
plt.rcParams["ytick.color"] = "black"
plt.rcParams["xtick.labelcolor"] = "black"
plt.rcParams["ytick.labelcolor"] = "black"
plt.rcParams["axes.edgecolor"] = "black"
plt.rcParams["axes.labelcolor"] = "black"
plt.rcParams["text.color"] = "black"

RED = "#d9534f"
KDE_RED = "#d05f5c"
GRID_KW = dict(ls="--", color="#cfcfcf", lw=1.2)
TITLE_KW = dict(loc="left", fontweight="bold", fontsize=18, pad=7, color="black")

fig = plt.figure(figsize=(12.32, 12.16), dpi=100)
W, H = 1232.0, 1216.0


def add_ax(l, r, t, b):
    return fig.add_axes([l / W, 1 - b / H, (r - l) / W, (b - t) / H])


ax_a = add_ax(105, 1149, 37, 322)
ax_b = add_ax(105, 769, 435, 723)
ax_c = add_ax(862, 1149, 435, 723)
ax_d = add_ax(105, 769, 848, 1135)
ax_e = add_ax(862, 1149, 848, 1135)

# ---------------- panel a ----------------
ax = ax_a
ax.fill_between(years, hdi_lower, hdi_upper, color="gray", alpha=0.2, lw=0, zorder=1)
sns.lineplot(x=years, y=median_gmst, ax=ax, color="black", lw=1.8, zorder=3)
for path, col in zip([path_blue, path_orange, path_green, path_red],
                     ["tab:blue", "tab:orange", "tab:green", "tab:red"]):
    sns.lineplot(x=years, y=path, ax=ax, color=col, lw=1.0, alpha=0.8, zorder=4)
ax.set_xlim(1000, 2000)
ax.set_ylim(-0.91, 1.0)
ax.set_xticks([1000, 1200, 1400, 1600, 1800, 2000])
ax.set_yticks([-0.5, 0.0, 0.5, 1.0])
ax.grid(True, **GRID_KW)
ax.set_axisbelow(True)
ax.set_xlabel("Time [yrs]")
ax.set_ylabel("GMST [°C]")
ax.set_title("a) LMRonline HDI and traces", **TITLE_KW)
h_a = [Patch(facecolor="gray", alpha=0.2, edgecolor="none"),
       Line2D([], [], color="black", lw=1.5),
       Line2D([], [], color="tab:purple", alpha=0.7, lw=3)]
ax.legend(h_a, ["95.0% HDI", "median", "sample paths (n=4)"], loc="upper center",
          ncol=3, frameon=False, fontsize=16.5, handlelength=2.2, handletextpad=0.8,
          columnspacing=2.0, borderaxespad=0.45)
sns.despine(ax=ax)


def setup_period_axis(ax):
    ax.set_xscale("log")
    ax.set_yscale("log")
    ax.set_xlim(1000, 2)


# ---------------- panel b ----------------
ax = ax_b
setup_period_axis(ax)
ax.fill_between(period_b, psd_q025, psd_q975, color=RED, alpha=0.3, lw=0, zorder=1)
for mem in members_b:
    sns.lineplot(x=period_m, y=mem, ax=ax, color="gray", lw=1.5, alpha=0.3, zorder=2)
sns.lineplot(x=period_b, y=psd_q50, ax=ax, color=RED, lw=5, zorder=3)
sns.lineplot(x=period_b, y=psd_median_lmr, ax=ax, color="black", lw=3, zorder=4)
sns.lineplot(x=fit_period, y=fit_psd, ax=ax, color="black", lw=1.3, ls="--", zorder=5)
ax.set_xlim(1000, 2)
ax.set_ylim(1e-3, 5.3)
ax.set_xticks(period_ticks, period_labels)
ax.xaxis.set_minor_formatter(NullFormatter())
ax.grid(True, which="major", **GRID_KW)
ax.set_axisbelow(True)
ax.set_xlabel("Period [yrs]")
ax.set_ylabel("PSD")
ax.set_title("b) LMRonline spectral density", **TITLE_KW)
h_b = [Line2D([], [], color="gray", lw=3),
       Line2D([], [], color=RED, lw=5),
       Patch(facecolor=RED, alpha=0.3, edgecolor="none"),
       Line2D([], [], color="black", lw=3)]
ax.legend(h_b, ["example members (n=10)", "50%", "2.5%-97.5%",
                r"LMRonline median ($\hat{\beta}$ = 0.92±0.06)"],
          loc="lower left", frameon=False, fontsize=14, handlelength=2.2,
          handletextpad=0.6, labelspacing=0.5)
sns.despine(ax=ax)

# ---------------- panel c ----------------
ax = ax_c
sns.lineplot(x=beta_grid_c, y=density_c, ax=ax, color=KDE_RED, lw=2.8, sort=False)
ax.axvline(beta_bar, color=KDE_RED, ls=":", lw=3)
ax.axvline(beta_m, color="black", ls=":", lw=3)
ax.set_xlim(0, 1.5)
ax.set_ylim(0, 4.8)
ax.set_xticks([0.0, 0.5, 1.0, 1.5])
ax.set_yticks([0, 1, 2, 3, 4])
ax.grid(True, **GRID_KW)
ax.set_axisbelow(True)
ax.set_xlabel(r"$\hat{\beta}$")
ax.set_ylabel("Density")
ax.set_title("c) LMRonline slopes", **TITLE_KW)
h_c = [Line2D([], [], color=KDE_RED, lw=2.8),
       Line2D([], [], color=KDE_RED, lw=3, ls=":"),
       Line2D([], [], color="black", lw=3, ls=":")]
ax.legend(h_c, ["ensemble", r"$\bar{\beta}=0.85$", r"$\hat{\beta}_m$"],
          loc="upper left", bbox_to_anchor=(0.735, 0.965), borderaxespad=0,
          fontsize=14, frameon=True, handlelength=2.2)
sns.despine(ax=ax)

# ---------------- panel d ----------------
ax = ax_d
setup_period_axis(ax)
ax.fill_between(period_m, psd_std_q025, psd_std_q975, color=RED, alpha=0.3, lw=0, zorder=1)
for mem in members_d:
    sns.lineplot(x=period_m, y=mem, ax=ax, color="gray", lw=1.5, alpha=0.3, zorder=2)
sns.lineplot(x=period_m, y=psd_std_q50, ax=ax, color=RED, lw=5, zorder=3)
ax.set_xlim(1000, 2)
ax.set_ylim(0.046, 490)
ax.set_xticks(period_ticks, period_labels)
ax.xaxis.set_minor_formatter(NullFormatter())
ax.grid(True, which="major", **GRID_KW)
ax.set_axisbelow(True)
ax.set_xlabel("Period [yrs]")
ax.set_ylabel("PSD")
ax.set_title("d) same as b), after standardization", **TITLE_KW)
ax.legend(h_b[:3], ["example members (n=10)", "50%", "2.5%-97.5%"],
          loc="upper right", frameon=False, fontsize=14, handlelength=2.2,
          handletextpad=0.6, labelspacing=0.5)
sns.despine(ax=ax)

# ---------------- panel e ----------------
ax = ax_e
sns.lineplot(x=beta_grid_e, y=density_e, ax=ax, color=KDE_RED, lw=2.8, sort=False)
ax.axvline(beta_bar_s, color=KDE_RED, ls=":", lw=3)
ax.set_xlim(0, 1.5)
ax.set_ylim(0, 4.8)
ax.set_xticks([0.0, 0.5, 1.0, 1.5])
ax.set_yticks([0, 1, 2, 3, 4])
ax.grid(True, **GRID_KW)
ax.set_axisbelow(True)
ax.set_xlabel(r"$\hat{\beta}_s$")
ax.set_ylabel("Density")
ax.set_title("e) as c), standardized", **TITLE_KW)
ax.legend(h_c[:2], ["ensemble", r"$\bar{\beta}_s=0.73$"],
          loc="upper left", bbox_to_anchor=(0.735, 0.965), borderaxespad=0,
          fontsize=14, frameon=True, handlelength=2.2)
sns.despine(ax=ax)

fig.savefig("out.png", dpi=100)
